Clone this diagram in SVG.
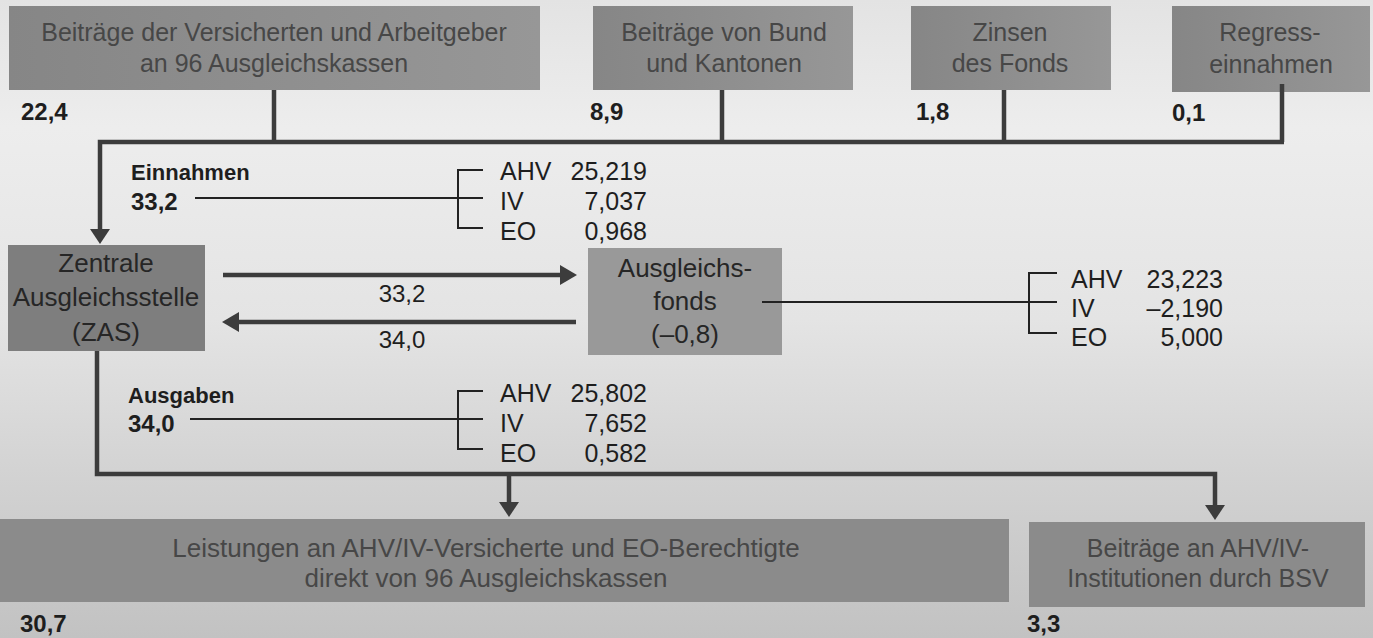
<svg xmlns="http://www.w3.org/2000/svg" width="1373" height="638" viewBox="0 0 1373 638">
  <defs>
    <linearGradient id="bg" x1="0" y1="0" x2="0" y2="1">
      <stop offset="0" stop-color="#e3e3e3"/>
      <stop offset="0.2" stop-color="#ededed"/>
      <stop offset="0.5" stop-color="#e4e4e4"/>
      <stop offset="0.75" stop-color="#d2d2d2"/>
      <stop offset="1" stop-color="#c2c2c2"/>
    </linearGradient>
    <linearGradient id="topbox" x1="0" y1="0" x2="1" y2="0">
      <stop offset="0" stop-color="#868686"/>
      <stop offset="1" stop-color="#979797"/>
    </linearGradient>
    <style>
      text { font-family: "Liberation Sans", Arial, sans-serif; }
      .box { font-size: 25px; fill: #474747; text-anchor: middle; }
      .boxb { font-size: 26px; fill: #474747; text-anchor: middle; }
      .boxd { font-size: 26px; fill: #262626; text-anchor: middle; }
      .num { font-size: 24px; font-weight: 700; fill: #1e1e1e; }
      .lbl { font-size: 22px; font-weight: 700; fill: #1e1e1e; }
      .flow { font-size: 24px; fill: #1e1e1e; text-anchor: middle; }
      .bd { font-size: 25px; fill: #1e1e1e; }
      .bdv { font-size: 25px; fill: #1e1e1e; text-anchor: end; }
      .conn { fill: none; stroke: #3c3c3c; stroke-width: 4.5; stroke-linejoin: miter; }
      .thin { fill: none; stroke: #222; stroke-width: 2; }
      .head { fill: #3c3c3c; }
    </style>
  </defs>

  <rect x="0" y="0" width="1373" height="638" fill="url(#bg)"/>

  <!-- top nodes -->
  <g id="node-beitraege-versicherte">
    <rect x="9" y="6" width="531" height="84" fill="url(#topbox)"/>
    <text class="box" x="274" y="41" fill="#5a5a5a">Beiträge der Versicherten und Arbeitgeber</text>
    <text class="box" x="274" y="72">an 96 Ausgleichskassen</text>
    <text class="num" x="21" y="120">22,4</text>
  </g>
  <g id="node-bund-kantone">
    <rect x="593" y="6" width="260" height="84" fill="url(#topbox)"/>
    <text class="box" x="724" y="41">Beiträge von Bund</text>
    <text class="box" x="724" y="72">und Kantonen</text>
    <text class="num" x="590" y="120">8,9</text>
  </g>
  <g id="node-zinsen">
    <rect x="911" y="6" width="200" height="84" fill="url(#topbox)"/>
    <text class="box" x="1010" y="41">Zinsen</text>
    <text class="box" x="1010" y="72">des Fonds</text>
    <text class="num" x="916" y="120">1,8</text>
  </g>
  <g id="node-regress">
    <rect x="1172" y="6" width="198" height="86" fill="url(#topbox)"/>
    <text class="box" x="1270" y="41">Regress-</text>
    <text class="box" x="1271" y="73">einnahmen</text>
    <text class="num" x="1172" y="121">0,1</text>
  </g>

  <!-- middle nodes -->
  <g id="node-zas">
    <rect x="8" y="245" width="197" height="106" fill="#7e7e7e"/>
    <text class="boxd" x="106" y="272">Zentrale</text>
    <text class="boxd" x="106" y="306">Ausgleichsstelle</text>
    <text class="boxd" x="106" y="341">(ZAS)</text>
  </g>
  <g id="node-fonds">
    <rect x="588" y="248" width="194" height="107" fill="#999999"/>
    <text class="boxd" x="685" y="277">Ausgleichs-</text>
    <text class="boxd" x="685" y="310">fonds</text>
    <text class="boxd" x="685" y="343">(–0,8)</text>
  </g>

  <!-- bottom nodes -->
  <g id="node-leistungen">
    <rect x="0" y="519" width="1009" height="83" fill="#8b8b8b"/>
    <text class="boxb" x="486" y="557">Leistungen an AHV/IV-Versicherte und EO-Berechtigte</text>
    <text class="boxb" x="486" y="587">direkt von 96 Ausgleichskassen</text>
    <text class="num" x="20" y="632">30,7</text>
  </g>
  <g id="node-bsv">
    <rect x="1029" y="522" width="336" height="85" fill="#8b8b8b"/>
    <text class="box" x="1198" y="557">Beiträge an AHV/IV-</text>
    <text class="box" x="1198" y="587">Institutionen durch BSV</text>
    <text class="num" x="1027" y="632">3,3</text>
  </g>

  <!-- breakdowns -->
  <g id="einnahmen">
    <text class="lbl" x="131" y="180">Einnahmen</text>
    <text class="num" x="131" y="210">33,2</text>
    <path class="thin" d="M195 198 H458 M483 170 H458 V228 H483 M458 198 H483"/>
    <text class="bd" x="500" y="180">AHV</text>
    <text class="bd" x="500" y="210">IV</text>
    <text class="bd" x="500" y="240">EO</text>
    <text class="bdv" x="647" y="180">25,219</text>
    <text class="bdv" x="647" y="210">7,037</text>
    <text class="bdv" x="647" y="240">0,968</text>
  </g>
  <g id="ausgaben">
    <text class="lbl" x="128" y="403">Ausgaben</text>
    <text class="num" x="128" y="432">34,0</text>
    <path class="thin" d="M190 419 H458 M483 391 H458 V449 H483 M458 419 H483"/>
    <text class="bd" x="500" y="402">AHV</text>
    <text class="bd" x="500" y="432">IV</text>
    <text class="bd" x="500" y="462">EO</text>
    <text class="bdv" x="647" y="402">25,802</text>
    <text class="bdv" x="647" y="432">7,652</text>
    <text class="bdv" x="647" y="462">0,582</text>
  </g>
  <g id="fonds-breakdown">
    <path class="thin" d="M762 302 H1029 M1057 273 H1029 V333 H1057 M1029 302 H1057"/>
    <text class="bd" x="1071" y="288">AHV</text>
    <text class="bd" x="1071" y="317">IV</text>
    <text class="bd" x="1071" y="346">EO</text>
    <text class="bdv" x="1223" y="288">23,223</text>
    <text class="bdv" x="1223" y="317">–2,190</text>
    <text class="bdv" x="1223" y="346">5,000</text>
  </g>

  <!-- connectors -->
  <g id="connectors">
    <path class="conn" d="M274 90 V142 M722 90 V142 M1004 90 V142 M1282 84 V142"/>
    <path class="conn" d="M1284 142 H100 V231"/>
    <polygon class="head" points="90,229 110,229 100,244"/>

    <path class="conn" d="M223 275 H562"/>
    <polygon class="head" points="560,265 577,275 560,285"/>
    <text class="flow" x="402" y="302">33,2</text>

    <path class="conn" d="M576 322 H237"/>
    <polygon class="head" points="239,312 222,322 239,332"/>
    <text class="flow" x="402" y="348">34,0</text>

    <path class="conn" d="M97 351 V474 H1215 V507"/>
    <path class="conn" d="M509 474 V504"/>
    <polygon class="head" points="499,502 519,502 509,517"/>
    <polygon class="head" points="1205,505 1225,505 1215,520"/>
  </g>
</svg>
